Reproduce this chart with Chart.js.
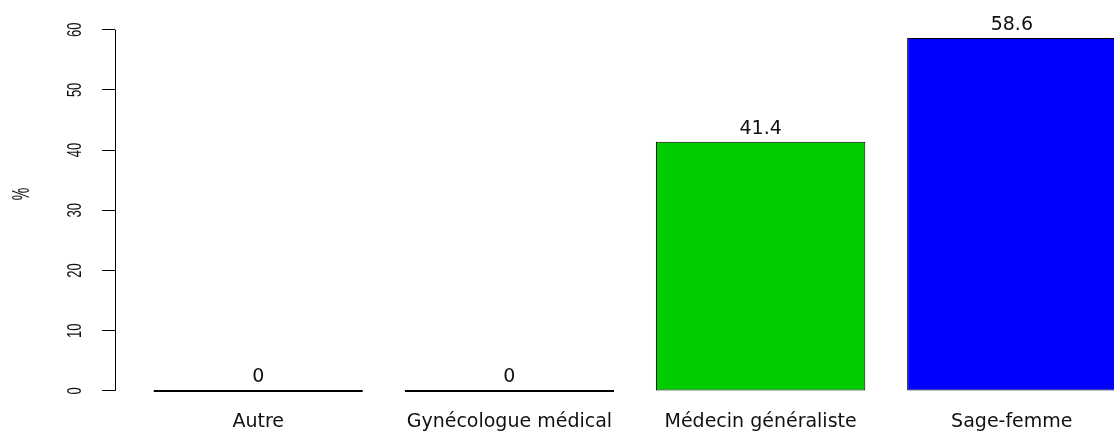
<!DOCTYPE html>
<html>
<head>
<meta charset="utf-8">
<title>Barplot</title>
<script src="https://cdn.jsdelivr.net/npm/chart.js@4/dist/chart.umd.min.js"></script>
<style>
  html, body { margin: 0; padding: 0; background: #fff; overflow: hidden; }
  .chart-wrap { position: relative; width: 1175px; height: 432px; }
</style>
</head>
<body>
<div class="chart-wrap"><canvas id="barChart"></canvas></div>
<script>
// donnees
const categories = ["Autre", "Gynécologue médical", "Médecin généraliste", "Sage-femme"];
const percents = [0, 0, 41.4, 58.6];
const barColors = ["#FF0000", "#FFFF00", "#00CC00", "#0000FF"];
const yTicks = [0, 10, 20, 30, 40, 50, 60];
const yTitle = "%";

// valeurs au dessus des barres
const valueLabels = {
  id: "valueLabels",
  afterDatasetsDraw(chart) {
    const ctx = chart.ctx;
    const meta = chart.getDatasetMeta(0);
    ctx.save();
    ctx.font = '19px "DejaVu Sans"';
    ctx.fillStyle = "#111";
    ctx.textAlign = "center";
    ctx.textBaseline = "alphabetic";
    meta.data.forEach((bar, i) => {
      ctx.fillText(String(percents[i]), bar.x, Math.min(bar.y, bar.base) - 8);
    });
    ctx.restore();
  },
};

// axe y a la maniere de R (ligne de 0 a 60, libelles verticaux)
const rAxis = {
  id: "rAxis",
  afterDraw(chart) {
    const ctx = chart.ctx;
    const y = chart.scales.y;
    const left = chart.chartArea.left;
    ctx.save();
    ctx.strokeStyle = "#000";
    ctx.lineWidth = 1;
    ctx.beginPath();
    ctx.moveTo(left + 0.5, y.getPixelForValue(yTicks[0]));
    ctx.lineTo(left + 0.5, y.getPixelForValue(yTicks[yTicks.length - 1]));
    ctx.stroke();

    ctx.fillStyle = "#111";
    ctx.textAlign = "center";
    ctx.textBaseline = "middle";
    yTicks.forEach((t) => {
      ctx.save();
      ctx.translate(left - 40, y.getPixelForValue(t));
      ctx.rotate(-Math.PI / 2);
      ctx.scale(1, 1.6);
      ctx.font = '13px "Liberation Sans"';
      ctx.fillText(String(t), 0, 0);
      ctx.restore();
    });

    ctx.save();
    ctx.translate(22, 194);
    ctx.rotate(-Math.PI / 2);
    ctx.scale(1, 1.7);
    ctx.font = '14px "Liberation Sans"';
    ctx.fillText(yTitle, 0, 0);
    ctx.restore();
    ctx.restore();
  },
};

const ctx = document.getElementById("barChart").getContext("2d");
new Chart(ctx, {
  type: "bar",
  data: {
    datasets: [
      {
        data: percents.map((v, i) => ({ x: i, y: v })),
        backgroundColor: barColors,
        borderColor: "#000",
        borderWidth: 1,
        borderSkipped: false,
        minBarLength: 2,
        barPercentage: 1 / 1.2,
        categoryPercentage: 1,
      },
    ],
  },
  options: {
    responsive: true,
    maintainAspectRatio: false,
    animation: false,
    layout: { padding: { top: 24, right: 20, left: 0, bottom: 0 } },
    plugins: {
      legend: { display: false },
      tooltip: { enabled: false },
    },
    scales: {
      x: {
        type: "linear",
        offset: false,
        min: -0.57,
        max: 3.57,
        grid: { display: false },
        border: { display: false },
        afterBuildTicks: (scale) => {
          scale.ticks = categories.map((c, i) => ({ value: i }));
        },
        afterFit: (scale) => {
          scale.height = 27;
        },
        ticks: {
          autoSkip: false,
          maxRotation: 0,
          padding: -2,
          color: "#111",
          font: { family: "DejaVu Sans", size: 19 },
          callback: (value) => categories[value],
        },
      },
      y: {
        min: -2.344,
        max: 60.944,
        grid: {
          drawOnChartArea: false,
          drawTicks: true,
          tickLength: 13,
          color: "#000",
        },
        border: { display: false },
        afterFit: (scale) => {
          scale.width = 115;
        },
        ticks: {
          stepSize: 10,
          includeBounds: false,
          display: false,
        },
      },
    },
  },
  plugins: [valueLabels, rAxis],
});
</script>
</body>
</html>
